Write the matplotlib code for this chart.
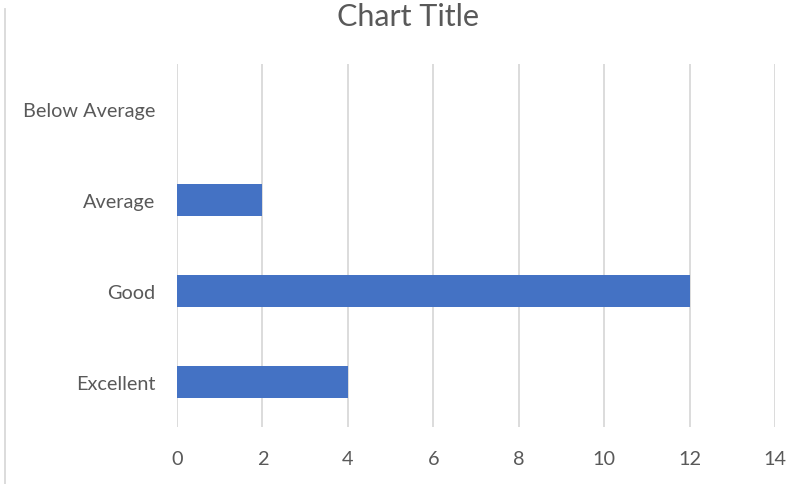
import matplotlib.pyplot as plt
from matplotlib.lines import Line2D

categories = ['Excellent', 'Good', 'Average', 'Below Average']
values = [4, 12, 2, 0]
x_ticks = [0, 2, 4, 6, 8, 10, 12, 14]

plt.rcParams['font.family'] = ['Lato', 'DejaVu Sans']

fig = plt.figure(figsize=(8.06, 4.85), dpi=100)
ax = fig.add_axes([0.2196, 0.1165, 0.7419, 0.7505])

ax.barh(range(len(categories)), values, height=0.355, color='#4472C4', zorder=3)

ax.set_xlim(0, 14)
ax.set_ylim(-0.5, len(categories) - 0.5)
ax.set_xticks(x_ticks)
ax.set_yticks(range(len(categories)))
ax.set_yticklabels(categories)
ax.xaxis.grid(True, color='#d9d9d9', linewidth=1.3, zorder=0)
ax.tick_params(axis='both', length=0, labelsize=14.3, colors='#595959')
ax.tick_params(axis='x', pad=16)
ax.tick_params(axis='y', pad=15.5)
for s in ax.spines.values():
    s.set_visible(False)

fig.text(0.5056, 0.946, 'Chart Title', ha='center', va='baseline', fontsize=22, color='#595959')

# left border of the chart area
fig.add_artist(Line2D([0.006, 0.006], [0.0, 0.98], color='#d9d9d9', linewidth=1.3))

fig.savefig('out.png', dpi=100)
